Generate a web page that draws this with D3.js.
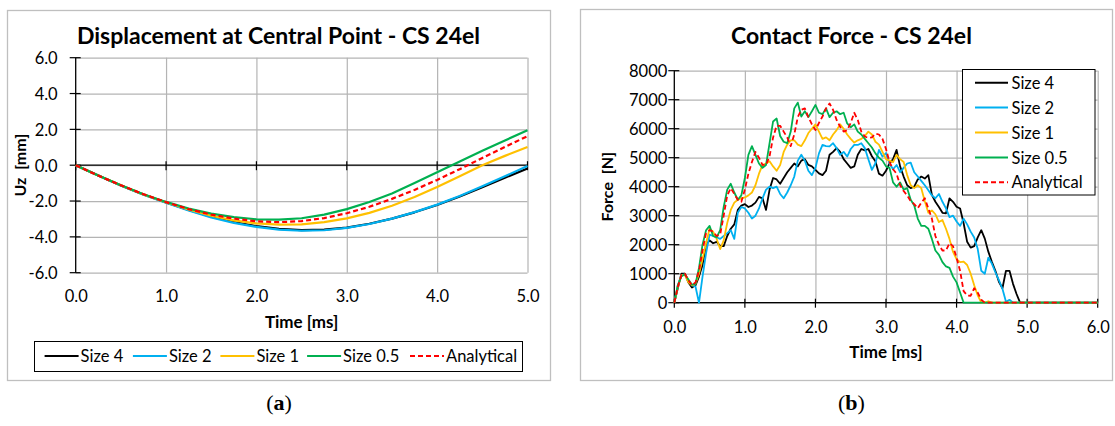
<!DOCTYPE html>
<html><head><meta charset="utf-8">
<script src="https://cdn.jsdelivr.net/npm/d3@7"></script>
<style>
html,body{margin:0;padding:0;background:#fff;}
svg{display:block;}
text{font-family:Lato,'Open Sans',sans-serif;fill:#000;}
</style></head><body>
<svg id="c" width="1115" height="426"></svg>
<script>
// ---------- shared ----------
const seriesNames = ["Size 4", "Size 2", "Size 1", "Size 0.5", "Analytical"];
const seriesColors = ["#000000", "#00B0F0", "#FFC000", "#00B050", "#FF0000"];

// ---------- (a) displacement ----------
const dispTitle = "Displacement at Central Point - CS 24el";
const dispTime = [0, 0.25, 0.5, 0.75, 1, 1.25, 1.5, 1.75, 2, 2.25, 2.5, 2.75, 3, 3.25, 3.5, 3.75, 4, 4.25, 4.5, 4.75, 5];
const dispSize4 = [0, -0.58, -1.13, -1.64, -2.08, -2.50, -2.88, -3.18, -3.40, -3.55, -3.62, -3.60, -3.48, -3.27, -2.98, -2.63, -2.22, -1.75, -1.23, -0.70, -0.18];
const dispSize2 = [0, -0.58, -1.13, -1.65, -2.10, -2.53, -2.92, -3.22, -3.44, -3.60, -3.66, -3.63, -3.50, -3.28, -2.98, -2.62, -2.20, -1.72, -1.18, -0.62, -0.05];
const dispSize1 = [0, -0.58, -1.12, -1.63, -2.07, -2.47, -2.82, -3.08, -3.25, -3.32, -3.30, -3.18, -2.97, -2.66, -2.26, -1.78, -1.22, -0.62, 0.00, 0.52, 1.02];
const dispSize05 = [0, -0.58, -1.12, -1.62, -2.05, -2.42, -2.70, -2.90, -3.02, -3.04, -2.96, -2.76, -2.45, -2.05, -1.58, -1.00, -0.40, 0.20, 0.80, 1.38, 1.95];
const dispAnalytical = [0, -0.58, -1.12, -1.62, -2.06, -2.45, -2.76, -2.98, -3.13, -3.18, -3.12, -2.95, -2.68, -2.32, -1.88, -1.38, -0.82, -0.22, 0.40, 1.02, 1.62];
const dispXTicks = [0, 1, 2, 3, 4, 5];
const dispYTicks = [-6, -4, -2, 0, 2, 4, 6];

// ---------- (b) contact force ----------
const forceTitle = "Contact Force - CS 24el";
const forceTime = [0, 0.05, 0.1, 0.15, 0.2, 0.25, 0.3, 0.35, 0.4, 0.45,
  0.5, 0.55, 0.6, 0.65, 0.7, 0.75, 0.8, 0.85, 0.9, 0.95,
  1.0, 1.05, 1.1, 1.15, 1.2, 1.25, 1.3, 1.35, 1.4, 1.45,
  1.5, 1.55, 1.6, 1.65, 1.7, 1.75, 1.8, 1.85, 1.9, 1.95,
  2.0, 2.05, 2.1, 2.15, 2.2, 2.25, 2.3, 2.35, 2.4, 2.45,
  2.5, 2.55, 2.6, 2.65, 2.7, 2.75, 2.8, 2.85, 2.9, 2.95,
  3.0, 3.05, 3.1, 3.15, 3.2, 3.25, 3.3, 3.35, 3.4, 3.45,
  3.5, 3.55, 3.6, 3.65, 3.7, 3.75, 3.8, 3.85, 3.9, 3.95,
  4.0, 4.05, 4.1, 4.15, 4.2, 4.25, 4.3, 4.35, 4.4, 4.45,
  4.5, 4.55, 4.6, 4.65, 4.7, 4.75, 4.8, 4.85, 4.9, 4.95,
  5.0, 6.0];
const forceSize4 = [0, 500, 1000, 1000, 700, 520, 600, 900, 1300, 2000,
  2150, 2050, 2100, 1950, 1950, 2300, 2550, 2700, 3200, 3350,
  3400, 3300, 3350, 3450, 3650, 3600, 3200, 3900, 4300, 4250,
  4100, 4300, 4500, 4650, 4800, 4700, 4900, 4950, 4750, 4700,
  4580, 4460, 4400, 4550, 5100, 5200, 5330, 5200, 4950, 4800,
  4650, 4700, 5100, 5300, 5250, 5300, 5050, 4880, 4450, 4380,
  4550, 4800, 4950, 5270, 4700, 4350, 4050, 3950, 4000, 4250,
  4350, 4280, 4400, 3720, 3480, 3300, 3100, 3080, 3600, 3480,
  3310, 3250, 2740, 2100, 1900, 1950, 2250, 2500, 2210, 1760,
  1410, 1100, 720, 500, 1100, 1100, 650, 300, 0, 0,
  0, 0];
const forceSize2 = [0, 600, 950, 980, 750, 600, 560, 0, 900, 1700,
  2350, 2300, 2250, 2200, 2300, 2400, 2500, 2200, 3100, 3300,
  3250, 3100, 2900, 3000, 3250, 3600, 3900, 4000, 3950, 4000,
  3750, 3600, 3800, 4050, 4350, 4900, 5100, 4900, 4550, 4400,
  4650, 5150, 5440, 5400, 5390, 5500, 5330, 5100, 5200, 5040,
  5300, 5440, 5440, 5500, 5330, 4950, 4580, 4810, 5270, 5040,
  5160, 4800, 4600, 4750, 4500, 4650, 4800, 4830, 4500, 4350,
  4200, 4050, 3880, 3700, 3600, 3750, 3480, 3250, 2950, 3000,
  2800, 2650, 2900, 2700, 2450, 2250, 1850, 1100, 1000, 1550,
  1350, 1050, 780, 480, 30, 100, 0, 0, 0, 0,
  0, 0];
const forceSize1 = [0, 550, 950, 950, 700, 600, 650, 1000, 1500, 2050,
  2550, 2450, 2200, 1850, 2150, 2750, 3200, 3450, 3550, 3600,
  3630, 3700, 3800, 4050, 4450, 4750, 4800, 4880, 4700, 4550,
  4750, 5200, 5450, 5600, 5600, 5450, 5400, 5600, 5850, 6000,
  6150, 5900, 5650, 5700, 5600, 5800, 5950, 6150, 6000, 5800,
  5650, 5520, 5600, 5650, 5750, 5900, 5800, 5550, 5450, 5200,
  4950, 4900, 4850, 5100, 4950, 4850, 4400, 4050, 3950, 4050,
  3950, 3500, 3100, 3180, 3050, 2780, 2850, 2550, 2200, 1750,
  1500, 1400, 1420, 1300, 1000, 600, 250, 0, 0, 50,
  0, 0, 0, 0, 0, 0, 0, 0, 0, 0,
  0, 0];
const forceSize05 = [0, 600, 900, 980, 800, 620, 650, 1200, 2000, 2500,
  2650, 2300, 2250, 2500, 3300, 3900, 4100, 3800, 3550, 3700,
  4300, 5100, 5400, 5100, 4800, 4650, 4750, 5500, 6250, 6350,
  5750, 5550, 5500, 5900, 6700, 6900, 6420, 6600, 6400, 6600,
  6820, 6550, 6500, 6700, 6400, 6550, 6600, 6500, 6550, 6180,
  6050, 6150, 5900, 5800, 5650, 5500, 5350, 5150, 5000, 4900,
  4700, 4650, 4150, 4000, 4150, 3900, 3950, 3550, 3350, 2900,
  2650, 2650, 2550, 2200, 1800, 1650, 1400, 1250, 1200, 900,
  700, 350, 0, 0, 0, 0, 0, 0, 0, 0,
  0, 0, 0, 0, 0, 0, 0, 0, 0, 0,
  0, 0];
const forceAnalytical = [0, 550, 950, 1000, 780, 600, 700, 1100, 1800, 2400,
  2500, 2450, 2300, 2350, 3000, 3700, 3950, 3750, 3550, 3480,
  3900, 4450, 4850, 5200, 5000, 4750, 4750, 5050, 5700, 6100,
  6100, 5900, 5700, 5400, 5800, 6400, 6650, 6700, 6400, 6150,
  5950, 6200, 6420, 6700, 6870, 6650, 6300, 6070, 5900, 5950,
  6200, 6550, 6300, 5900, 5730, 5680, 5700, 5830, 5800, 5650,
  5300, 4850, 4600, 4450, 4050, 3850, 3700, 3500, 3400, 3260,
  3450, 3600, 3250, 2900, 2300, 2000, 1800, 1800, 2050, 1950,
  1550, 1100, 400, 250, 240, 500, 350, 100, 0, 0,
  0, 0, 0, 0, 0, 0, 0, 0, 0, 0,
  0, 0];
const forceXTicks = [0, 1, 2, 3, 4, 5, 6];
const forceYTicks = [0, 1000, 2000, 3000, 4000, 5000, 6000, 7000, 8000];

// ---------- drawing ----------
const svg = d3.select("#c");
const GRID = "#b4b4b4";
const FS = 16.5;

function drawPanel(cfg) {
  const g = svg.append("g");
  g.append("rect").attr("x", cfg.box[0] + 0.5).attr("y", cfg.box[1] + 0.5)
    .attr("width", cfg.box[2] - cfg.box[0]).attr("height", cfg.box[3] - cfg.box[1])
    .attr("fill", "#fff").attr("stroke", "#bfbfbf").attr("stroke-width", 1.3);

  const x = d3.scaleLinear().domain(cfg.xDomain).range([cfg.left, cfg.right]);
  const y = d3.scaleLinear().domain(cfg.yDomain).range([cfg.bottom, cfg.top]);

  // gridlines
  const gx = g.append("g").attr("transform", `translate(0,${cfg.bottom})`)
    .call(d3.axisBottom(x).tickValues(cfg.xTicks.filter(v => v !== cfg.xDomain[0]))
      .tickSize(-(cfg.bottom - cfg.top)).tickFormat(""));
  const gy = g.append("g").attr("transform", `translate(${cfg.left},0)`)
    .call(d3.axisLeft(y).tickValues(cfg.yTicks).tickSize(-(cfg.right - cfg.left)).tickFormat(""));
  [gx, gy].forEach(a => {
    a.select(".domain").remove();
    a.selectAll("line").attr("stroke", GRID).attr("stroke-width", 1.2);
  });

  // axes lines
  const y0 = y(cfg.xAxisAt);
  g.append("line").attr("x1", cfg.left).attr("x2", cfg.right).attr("y1", y0).attr("y2", y0)
    .attr("stroke", "#000").attr("stroke-width", 1.3);
  g.append("line").attr("x1", cfg.left).attr("x2", cfg.left).attr("y1", cfg.top).attr("y2", cfg.bottom)
    .attr("stroke", "#000").attr("stroke-width", 1.3);
  // cross ticks
  g.append("g").selectAll("line").data(cfg.yTicks).join("line")
    .attr("x1", cfg.left - 6).attr("x2", cfg.left + 5).attr("y1", d => y(d)).attr("y2", d => y(d))
    .attr("stroke", "#000").attr("stroke-width", 1.2);
  g.append("g").selectAll("line").data(cfg.xTicks).join("line")
    .attr("x1", d => x(d)).attr("x2", d => x(d)).attr("y1", y0 - 4).attr("y2", y0 + 5)
    .attr("stroke", "#000").attr("stroke-width", 1.2);

  // tick labels
  const ly = g.append("g").attr("transform", `translate(${cfg.left},0)`)
    .call(d3.axisLeft(y).tickValues(cfg.yTicks).tickSize(0).tickPadding(cfg.yPad).tickFormat(cfg.yFmt));
  const lx = g.append("g").attr("transform", `translate(0,${cfg.xLabelBase})`)
    .call(d3.axisBottom(x).tickValues(cfg.xTicks).tickSize(0).tickPadding(0).tickFormat(cfg.xFmt));
  [lx, ly].forEach(a => {
    a.attr("font-family", null).attr("font-size", null);
    a.select(".domain").remove();
    a.selectAll("text").style("font-size", FS + "px").attr("fill", "#000");
  });
  lx.selectAll("text").attr("y", 0).attr("dy", null);
  ly.selectAll("text").attr("dy", "0.36em");

  // titles
  g.append("text").attr("x", cfg.titleX).attr("y", 44).attr("text-anchor", "middle")
    .style("font-size", "23px").style("font-weight", "bold").text(cfg.title);
  g.append("text").attr("x", (cfg.left + cfg.right) / 2).attr("y", cfg.xTitleBase).attr("text-anchor", "middle")
    .style("font-size", "17px").style("font-weight", "bold").text("Time [ms]");
  g.append("text").attr("transform", `translate(${cfg.yTitleX},${(cfg.top + cfg.bottom) / 2}) rotate(-90)`)
    .attr("text-anchor", "middle").style("font-size", "16px").style("font-weight", "bold")
    .style("white-space", "pre").text(cfg.yTitle);

  // data lines
  const line = d3.line().x(d => x(d[0])).y(d => y(d[1]));
  cfg.series.forEach((s, i) => {
    const pts = cfg.time.map((t, k) => [t, s[k]]);
    g.append("path").datum(pts).attr("d", line).attr("fill", "none")
      .attr("stroke", seriesColors[i]).attr("stroke-width", cfg.lw)
      .attr("stroke-linejoin", "round")
      .attr("stroke-dasharray", i === 4 ? "5,3" : null);
  });
  return g;
}

// panel (a)
const ga = drawPanel({
  box: [7, 10, 550, 380],
  left: 75.7, right: 527.5, top: 57.7, bottom: 272.7,
  xDomain: [0, 5], yDomain: [-6, 6], xTicks: dispXTicks, yTicks: dispYTicks,
  xAxisAt: 0, yPad: 18, xLabelBase: 301.5,
  yFmt: d => d.toFixed(1), xFmt: d => d.toFixed(1),
  title: dispTitle, titleX: 278.5, xTitleBase: 327.5, yTitleX: 25.5, yTitle: "Uz  [mm]",
  time: dispTime, series: [dispSize4, dispSize2, dispSize1, dispSize05, dispAnalytical], lw: 2.2
});
// legend (a)
{
  const lg = ga.append("g");
  lg.append("rect").attr("x", 34.5).attr("y", 341.5).attr("width", 488).attr("height", 30)
    .attr("fill", "#fff").attr("stroke", "#000").attr("stroke-width", 1);
  const lx0 = [44.6, 132.9, 220.4, 307.1, 410];
  seriesNames.forEach((n, i) => {
    lg.append("line").attr("x1", lx0[i]).attr("x2", lx0[i] + 34).attr("y1", 356).attr("y2", 356)
      .attr("stroke", seriesColors[i]).attr("stroke-width", 2.2).attr("stroke-dasharray", i === 4 ? "5,3" : null);
    lg.append("text").attr("x", lx0[i] + 36).attr("y", 361.7).style("font-size", FS + "px").text(n);
  });
}

// panel (b)
const gb = drawPanel({
  box: [580, 9, 1112, 380],
  left: 674.3, right: 1097.7, top: 70.7, bottom: 302.7,
  xDomain: [0, 6], yDomain: [0, 8000], xTicks: forceXTicks, yTicks: forceYTicks,
  xAxisAt: 0, yPad: 7, xLabelBase: 333,
  yFmt: d => String(d), xFmt: d => d.toFixed(1),
  title: forceTitle, titleX: 851.4, xTitleBase: 358.3, yTitleX: 613, yTitle: "Force  [N]",
  time: forceTime, series: [forceSize4, forceSize2, forceSize1, forceSize05, forceAnalytical], lw: 1.8
});
// legend (b)
{
  const lg = gb.append("g");
  lg.append("rect").attr("x", 962.5).attr("y", 69.5).attr("width", 132.5).attr("height", 125.5)
    .attr("fill", "#fff").attr("stroke", "#000").attr("stroke-width", 1);
  const rowY = [82.7, 107.5, 132.5, 157.5, 182.3];
  seriesNames.forEach((n, i) => {
    lg.append("line").attr("x1", 975).attr("x2", 1008).attr("y1", rowY[i]).attr("y2", rowY[i])
      .attr("stroke", seriesColors[i]).attr("stroke-width", 2).attr("stroke-dasharray", i === 4 ? "5,3" : null);
    lg.append("text").attr("x", 1011.5).attr("y", rowY[i] + 6).style("font-size", FS + "px").text(n);
  });
}

// sub-figure labels
[["a", 279], ["b", 851.4]].forEach(([s, cx]) => {
  const t = svg.append("text").attr("x", cx).attr("y", 410).attr("text-anchor", "middle")
    .style("font-family", "'Liberation Serif','DejaVu Serif',serif").style("font-size", "22px");
  t.append("tspan").text("(");
  t.append("tspan").style("font-weight", "bold").style("font-family", "'Liberation Serif','DejaVu Serif',serif").text(s);
  t.append("tspan").text(")");
});
</script>
</body></html>
